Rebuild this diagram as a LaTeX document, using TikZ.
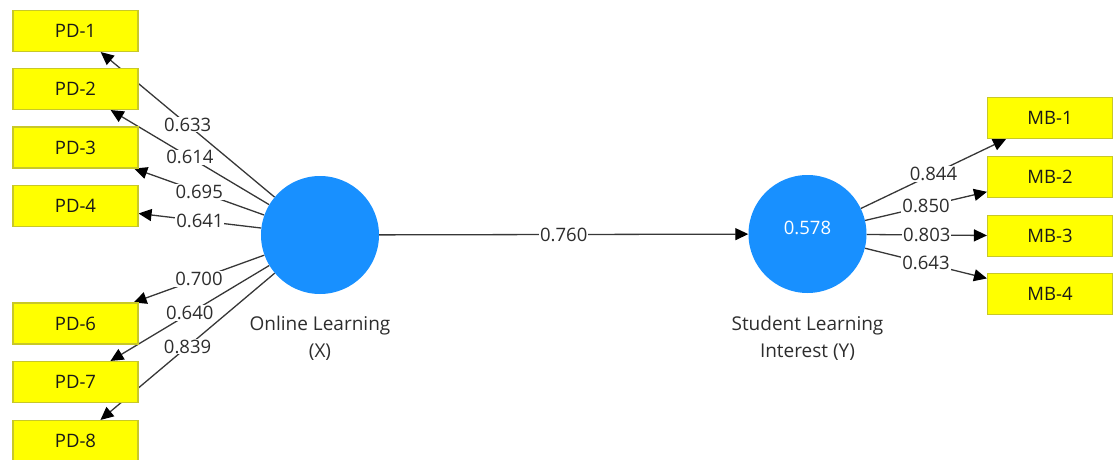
\documentclass[tikz,border=0pt]{standalone}
\usepackage{fontspec}
\setmainfont{Open Sans}
\usetikzlibrary{arrows.meta}
\usetikzlibrary{backgrounds}
\definecolor{boxfill}{RGB}{255,255,0}
\definecolor{boxline}{RGB}{200,200,40}
\definecolor{latentfill}{RGB}{24,144,255}
\definecolor{wiregray}{RGB}{55,55,55}
\definecolor{textgray}{RGB}{45,45,45}
\begin{document}
\begin{tikzpicture}[unit length/.code={{\newdimen\tikzunit}\setlength{\tikzunit}{#1}},unit length=1pt,x=\tikzunit,y=\tikzunit,font=\fontsize{18.5}{27}\selectfont,indicator/.style={rectangle,draw=boxline,fill=boxfill,line width=1.1pt,minimum width=125\tikzunit,minimum height=41\tikzunit,text=black!90},latent/.style={circle,draw=none,fill=latentfill,minimum size=118\tikzunit,inner sep=0,text=white},caption/.style={align=center,text=textgray,font=\fontsize{19}{27}\selectfont},weight/.style={midway,fill=white,inner sep=1pt,text=textgray},wire/.style={draw=wiregray,line width=1.3pt,-{Triangle[length=13pt,width=12pt,color=black]}}]
  \clip (-557,-229.5) rectangle (557,229.5);
  \node[latent] (nx) at (-237,-5.5) {};
  \node[latent] (ny) at (250.5,-4.5) {\raisebox{12pt}{0.578}};
  \node[caption] (cx) at (-237,-109) {Online Learning\\(X)};
  \node[caption] (cy) at (250.5,-109) {Student Learning\\Interest (Y)};
  \node[indicator] (pd1) at (-481.5,198.5) {PD-1};
  \node[indicator] (pd2) at (-481.5,140.5) {PD-2};
  \node[indicator] (pd3) at (-481.5,82) {PD-3};
  \node[indicator] (pd4) at (-481.5,23.5) {PD-4};
  \node[indicator] (pd6) at (-481.5,-94) {PD-6};
  \node[indicator] (pd7) at (-481.5,-152.5) {PD-7};
  \node[indicator] (pd8) at (-481.5,-211.5) {PD-8};
  \node[indicator] (mb1) at (493,111.5) {MB-1};
  \node[indicator] (mb2) at (493,52.5) {MB-2};
  \node[indicator] (mb3) at (493,-6.5) {MB-3};
  \node[indicator] (mb4) at (493,-64.5) {MB-4};
  \begin{scope}[on background layer]
  \path[wire] (nx) -- (pd1) node[weight] {0.633};
  \path[wire] (nx) -- (pd2) node[weight] {0.614};
  \path[wire] (nx) -- (pd3) node[weight] {0.695};
  \path[wire] (nx) -- (pd4) node[weight] {0.641};
  \path[wire] (nx) -- (pd6) node[weight] {0.700};
  \path[wire] (nx) -- (pd7) node[weight] {0.640};
  \path[wire] (nx) -- (pd8) node[weight] {0.839};
  \path[wire] (nx) -- (ny) node[weight] {0.760};
  \path[wire] (ny) -- (mb1) node[weight] {0.844};
  \path[wire] (ny) -- (mb2) node[weight] {0.850};
  \path[wire] (ny) -- (mb3) node[weight] {0.803};
  \path[wire] (ny) -- (mb4) node[weight] {0.643};
  \end{scope}
\end{tikzpicture}
\end{document}
